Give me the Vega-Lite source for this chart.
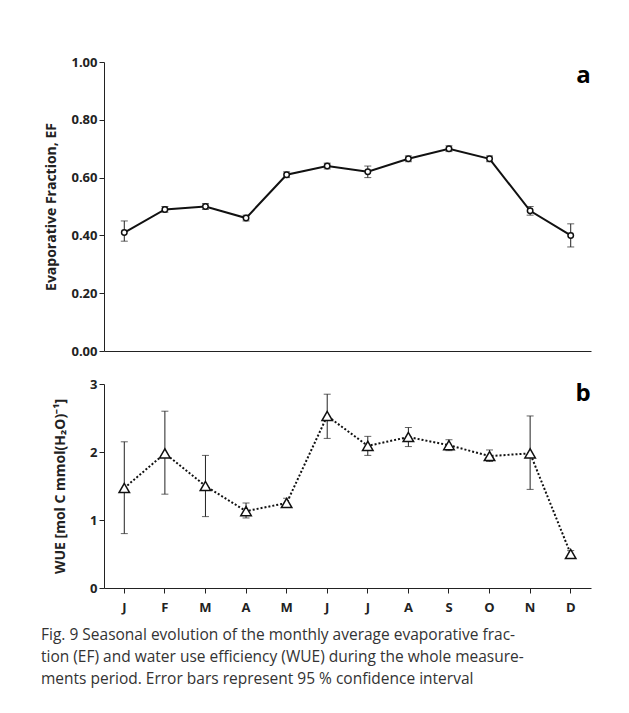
{
  "$schema": "https://vega.github.io/schema/vega-lite/v6.json",
  "padding": {"left": 40, "top": 56, "right": 10, "bottom": 10},
  "background": "white",
  "config": {
    "font": "Open Sans",
    "view": {"stroke": null},
    "axis": {"grid": false, "domainColor": "#222", "tickColor": "#222", "labelColor": "#222", "titleColor": "#222", "labelFontSize": 13, "titleFontSize": 14, "titleFontWeight": "bold", "labelFontWeight": "bold"},
    "concat": {"spacing": 20}
  },
  "datasets": {
    "m": [
      {"i": 1, "ef": 0.41, "efLo": 0.38, "efHi": 0.45, "wue": 1.47, "wLo": 0.80, "wHi": 2.15},
      {"i": 2, "ef": 0.49, "efLo": 0.48, "efHi": 0.50, "wue": 1.98, "wLo": 1.38, "wHi": 2.60},
      {"i": 3, "ef": 0.50, "efLo": 0.49, "efHi": 0.51, "wue": 1.50, "wLo": 1.05, "wHi": 1.95},
      {"i": 4, "ef": 0.46, "efLo": 0.45, "efHi": 0.47, "wue": 1.13, "wLo": 1.03, "wHi": 1.25},
      {"i": 5, "ef": 0.61, "efLo": 0.60, "efHi": 0.62, "wue": 1.25, "wLo": 1.19, "wHi": 1.32},
      {"i": 6, "ef": 0.64, "efLo": 0.63, "efHi": 0.65, "wue": 2.53, "wLo": 2.20, "wHi": 2.85},
      {"i": 7, "ef": 0.62, "efLo": 0.60, "efHi": 0.64, "wue": 2.09, "wLo": 1.95, "wHi": 2.23},
      {"i": 8, "ef": 0.665, "efLo": 0.655, "efHi": 0.675, "wue": 2.22, "wLo": 2.08, "wHi": 2.36},
      {"i": 9, "ef": 0.70, "efLo": 0.69, "efHi": 0.71, "wue": 2.10, "wLo": 2.02, "wHi": 2.18},
      {"i": 10, "ef": 0.665, "efLo": 0.655, "efHi": 0.675, "wue": 1.94, "wLo": 1.86, "wHi": 2.03},
      {"i": 11, "ef": 0.485, "efLo": 0.47, "efHi": 0.50, "wue": 1.98, "wLo": 1.45, "wHi": 2.53},
      {"i": 12, "ef": 0.40, "efLo": 0.36, "efHi": 0.44, "wue": 0.50, "wLo": 0.45, "wHi": 0.55}
    ]
  },
  "title": {
    "text": ["Fig. 9  Seasonal evolution of the monthly average evaporative frac-", "tion (EF) and water use efficiency (WUE) during the whole measure-", "ments period. Error bars represent 95 % confidence interval"],
    "orient": "bottom", "anchor": "start", "fontSize": 15.5, "fontWeight": "normal", "color": "#333", "offset": 14, "lineHeight": 22, "dx": -4
  },
  "vconcat": [
    {
      "width": 487, "height": 289,
      "data": {"name": "m"},
      "encoding": {
        "x": {"field": "i", "type": "ordinal", "axis": {"labels": false, "ticks": false, "title": null}}
      },
      "layer": [
        {"mark": {"type": "rule", "color": "#222"}, "encoding": {"y": {"field": "efLo", "type": "quantitative"}, "y2": {"field": "efHi"}}},
        {"mark": {"type": "tick", "color": "#222", "size": 7, "thickness": 1}, "encoding": {"y": {"field": "efLo", "type": "quantitative"}}},
        {"mark": {"type": "tick", "color": "#222", "size": 7, "thickness": 1}, "encoding": {"y": {"field": "efHi", "type": "quantitative"}}},
        {"mark": {"type": "line", "color": "#111", "strokeWidth": 2}, "encoding": {"y": {"field": "ef", "type": "quantitative", "scale": {"domain": [0, 1]}, "axis": {"values": [0, 0.2, 0.4, 0.6, 0.8, 1], "format": ".2f", "title": "Evaporative Fraction, EF", "titlePadding": 12}}}},
        {"mark": {"type": "point", "shape": "circle", "filled": true, "fill": "white", "stroke": "#111", "size": 30, "strokeWidth": 1.5, "opacity": 1}, "encoding": {"y": {"field": "ef", "type": "quantitative"}}},
        {"data": {"values": [{"x": 12, "y": 0.95, "t": "a"}]}, "mark": {"type": "text", "fontSize": 24, "fontWeight": "bold", "align": "right", "dx": 20}, "encoding": {"x": {"field": "x", "type": "ordinal"}, "y": {"field": "y", "type": "quantitative"}, "text": {"field": "t"}}}
      ]
    },
    {
      "width": 487, "height": 204,
      "data": {"name": "m"},
      "encoding": {
        "x": {"field": "i", "type": "ordinal", "axis": {"labelExpr": "['J','F','M','A','M','J','J','A','S','O','N','D'][datum.value-1]", "labelAngle": 0, "title": null, "labelPadding": 8}}
      },
      "layer": [
        {"mark": {"type": "rule", "color": "#222"}, "encoding": {"y": {"field": "wLo", "type": "quantitative"}, "y2": {"field": "wHi"}}},
        {"mark": {"type": "tick", "color": "#222", "size": 7, "thickness": 1}, "encoding": {"y": {"field": "wLo", "type": "quantitative"}}},
        {"mark": {"type": "tick", "color": "#222", "size": 7, "thickness": 1}, "encoding": {"y": {"field": "wHi", "type": "quantitative"}}},
        {"mark": {"type": "line", "color": "#111", "strokeWidth": 2, "strokeDash": [2, 2]}, "encoding": {"y": {"field": "wue", "type": "quantitative", "scale": {"domain": [0, 3]}, "axis": {"values": [0, 1, 2, 3], "format": "d", "title": "WUE [mol C mmol(H₂O)⁻¹]", "titlePadding": 22}}}},
        {"mark": {"type": "point", "shape": "triangle-up", "filled": true, "fill": "white", "stroke": "#111", "size": 110, "strokeWidth": 1.5, "opacity": 1}, "encoding": {"y": {"field": "wue", "type": "quantitative"}}},
        {"data": {"values": [{"x": 12, "y": 2.85, "t": "b"}]}, "mark": {"type": "text", "fontSize": 24, "fontWeight": "bold", "align": "right", "dx": 20}, "encoding": {"x": {"field": "x", "type": "ordinal"}, "y": {"field": "y", "type": "quantitative"}, "text": {"field": "t"}}}
      ]
    }
  ]
}
